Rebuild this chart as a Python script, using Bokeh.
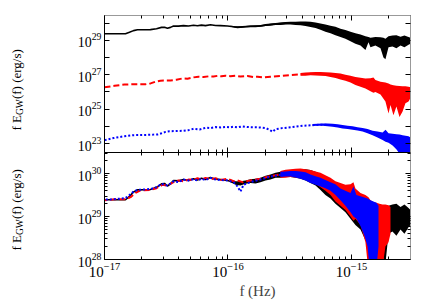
import numpy as np
from bokeh.plotting import figure
from bokeh.layouts import column, row
from bokeh.models import LogAxis, FixedTicker, Range1d, CustomJSTickFormatter
from bokeh.core.properties import value
from bokeh.embed import file_html
from bokeh.resources import INLINE

# ---------------- data: log10 f [Hz] and log10 f*E_GW(f) [erg/s] (lower-panel, rescaled frame)
black_logf = [-17.000, -16.830, -16.798, -16.765, -16.733, -16.628, -16.579, -16.538, -16.514,
              -16.490, -16.466, -16.441, -16.401, -16.360, -16.320, -16.279, -16.247, -16.215,
              -16.182, -16.142, -16.101, -16.061, -16.004, -15.955, -15.923, -15.883, -15.818,
              -15.737, -15.656, -15.575, -15.494, -15.413]
black_logE = [29.39, 29.39, 29.47, 29.57, 29.62, 29.63, 29.68, 29.76, 29.77,
              29.71, 29.76, 29.84, 29.83, 29.86, 29.84, 29.88, 29.85, 29.89,
              29.86, 29.91, 29.87, 29.86, 29.84, 29.80, 29.76, 29.79, 29.82,
              29.84, 29.93, 29.98, 30.02, 30.02]
black_band_logf = [-15.980, -15.939, -15.899, -15.858, -15.818, -15.777, -15.737, -15.696, -15.656,
                   -15.615, -15.575, -15.534, -15.494, -15.453, -15.413, -15.372, -15.332, -15.291,
                   -15.251, -15.211, -15.170, -15.130, -15.089, -15.049, -15.008, -14.968, -14.927,
                   -14.887, -14.862, -14.846, -14.806, -14.765, -14.741, -14.725, -14.700, -14.668,
                   -14.636, -14.603, -14.571, -14.538, -14.522]
black_band_lo = [29.80, 29.74, 29.72, 29.76, 29.78, 29.77, 29.80, 29.84, 29.86,
                 29.90, 29.90, 29.92, 29.92, 29.90, 29.88, 29.84, 29.78, 29.72,
                 29.62, 29.50, 29.42, 29.30, 29.20, 29.10, 28.95, 28.80, 28.70,
                 28.45, 28.90, 28.60, 28.70, 28.55, 28.00, 27.90, 28.60, 28.65,
                 28.55, 28.70, 28.60, 28.75, 28.80]
black_band_hi = [29.86, 29.82, 29.82, 29.84, 29.87, 29.88, 29.90, 29.95, 29.98,
                 30.02, 30.04, 30.07, 30.08, 30.09, 30.10, 30.10, 30.08, 30.04,
                 29.98, 29.92, 29.86, 29.80, 29.68, 29.60, 29.50, 29.42, 29.35,
                 29.25, 29.20, 29.15, 29.20, 29.18, 29.15, 29.10, 29.25, 29.28,
                 29.30, 29.22, 29.28, 29.20, 29.15]

red_logf = [-17.162, -17.081, -17.000, -16.919, -16.830, -16.789, -16.749, -16.709, -16.628,
            -16.579, -16.530, -16.490, -16.441, -16.401, -16.360, -16.320, -16.279, -16.247,
            -16.215, -16.182, -16.142, -16.101, -16.061, -16.004, -15.955, -15.923, -15.883,
            -15.818, -15.737, -15.656, -15.575, -15.494, -15.413]
red_logE = [29.22, 29.31, 29.38, 29.40, 29.40, 29.45, 29.55, 29.61, 29.62,
            29.66, 29.74, 29.72, 29.80, 29.84, 29.82, 29.86, 29.85, 29.89,
            29.86, 29.90, 29.87, 29.89, 29.85, 29.88, 29.82, 29.84, 29.80,
            29.84, 29.88, 29.94, 29.98, 30.01, 30.01]
red_band_logf = [-15.575, -15.534, -15.494, -15.453, -15.413, -15.372, -15.332, -15.291, -15.251,
                 -15.211, -15.170, -15.130, -15.089, -15.049, -15.008, -14.984, -14.968, -14.927,
                 -14.887, -14.862, -14.846, -14.822, -14.798, -14.773, -14.749, -14.725, -14.700,
                 -14.684]
red_band_lo = [29.90, 29.90, 29.92, 29.91, 29.90, 29.88, 29.82, 29.76, 29.68,
               29.60, 29.50, 29.35, 29.25, 29.15, 29.00, 28.90, 28.95, 28.80,
               28.40, 27.70, 28.20, 27.60, 28.10, 27.50, 27.80, 28.30, 28.40,
               28.60]
red_band_hi = [30.06, 30.09, 30.10, 30.11, 30.12, 30.10, 30.08, 30.05, 30.02,
               29.96, 29.90, 29.82, 29.78, 29.74, 29.75, 29.80, 29.65, 29.55,
               29.50, 29.45, 29.38, 29.34, 29.32, 29.30, 29.28, 29.28, 29.26,
               29.22]

blue_logf = [-17.259, -17.186, -17.105, -17.024, -16.943, -16.862, -16.830, -16.798, -16.765,
             -16.733, -16.628, -16.579, -16.538, -16.490, -16.441, -16.401, -16.360, -16.320,
             -16.279, -16.247, -16.215, -16.182, -16.142, -16.101, -16.061, -16.004, -15.955,
             -15.923, -15.899, -15.874, -15.818, -15.737, -15.656, -15.575, -15.494, -15.413]
blue_logE = [29.10, 29.22, 29.32, 29.39, 29.40, 29.42, 29.43, 29.50, 29.58,
             29.62, 29.64, 29.68, 29.76, 29.72, 29.82, 29.80, 29.86, 29.84,
             29.87, 29.84, 29.88, 29.85, 29.90, 29.86, 29.85, 29.84, 29.80,
             29.70, 29.58, 29.74, 29.80, 29.86, 29.93, 29.97, 30.00, 29.97]
blue_band_logf = [-15.575, -15.534, -15.494, -15.453, -15.413, -15.372, -15.332, -15.291, -15.251,
                  -15.211, -15.170, -15.130, -15.089, -15.049, -15.008, -14.984, -14.960, -14.927,
                  -14.895, -14.870, -14.846, -14.822, -14.798, -14.781]
blue_band_lo = [29.92, 29.93, 29.93, 29.91, 29.88, 29.84, 29.78, 29.74, 29.70,
                29.66, 29.60, 29.50, 29.38, 29.25, 29.10, 29.00, 28.95, 28.78,
                28.55, 28.30, 27.60, 27.50, 27.80, 28.30]
blue_band_hi = [30.04, 30.05, 30.06, 30.06, 30.05, 30.03, 29.98, 29.94, 29.90,
                29.85, 29.80, 29.75, 29.65, 29.60, 29.55, 29.70, 29.50, 29.47,
                29.44, 29.42, 29.38, 29.35, 29.32, 29.25]

# shifts that put each rescaled spectrum back to its raw value (upper panel)
red_raw_dlogf, red_raw_dlogE = 0.162, -2.95
blue_raw_dlogf, blue_raw_dlogE = 0.26, -5.90

x_major = [1e-17, 1e-16, 1e-15]
x_minor = [m * 10.0 ** e for e in (-17, -16, -15) for m in range(2, 10)]
top_y_major = [1e23, 1e25, 1e27, 1e29]
top_y_minor = [1e24, 1e26, 1e28, 1e30]
bot_y_major = [1e28, 1e29, 1e30]
bot_y_minor = [m * 10.0 ** e for e in (28, 29, 30) for m in range(2, 10)]

ytitle_parts = ["f E", "GW", "(f) (erg/s)"]

FONT = "Liberation Serif"
XR = (1e-17, 10 ** -14.522)
TW = 30       # width of the strip holding the y titles
H = 302       # height of that strip
OV = 5        # room below the upper frame, overlapped by the lower figure


def style(ax, major, minor, labels, line_color, minor_len=3, fs="15px"):
    ax.ticker = FixedTicker(ticks=major, minor_ticks=minor)
    ax.major_tick_in = 5
    ax.major_tick_out = 0
    ax.minor_tick_in = minor_len
    ax.minor_tick_out = 0
    ax.axis_line_color = line_color
    ax.major_tick_line_color = "black"
    ax.minor_tick_line_color = "black"
    if labels:
        ax.major_label_text_font = FONT
        ax.major_label_text_font_size = fs
        ax.major_label_text_color = "black"
        ax.major_label_standoff = 3
    else:
        ax.formatter = CustomJSTickFormatter(code="return ''")
        ax.major_label_text_font_size = "0.1px"
        ax.major_label_text_alpha = 0
        ax.major_label_standoff = 0


def make(yr, fh, bt, bb):
    p = figure(x_axis_type="log", y_axis_type="log", x_range=Range1d(*XR), y_range=Range1d(*yr),
               frame_width=306, frame_height=fh, output_backend="svg", toolbar_location=None,
               min_border_left=104 - TW, min_border_right=12, min_border_top=bt, min_border_bottom=bb)
    p.grid.visible = False
    p.outline_line_color = None
    p.background_fill_color = "white"
    p.border_fill_color = "white"
    return p


def draw(p, logf, logE, blf, blo, bhi, color, dash, width, dlf=0.0, dle=0.0):
    bx = 10 ** (np.array(blf) + dlf)
    p.varea(x=bx, y1=10 ** (np.array(blo) + dle), y2=10 ** (np.array(bhi) + dle),
            fill_color=color, fill_alpha=1.0)
    p.line(10 ** (np.array(logf) + dlf), 10 ** (np.array(logE) + dle), line_color=color,
           line_width=width, line_dash=dash)


# ---------------- upper panel
p1 = make((10 ** 22.48, 10 ** 30.45), 137, 15, OV)
p1.margin = (0, 0, -OV, 0)
draw(p1, black_logf, black_logE, black_band_logf, black_band_lo, black_band_hi, "black", "solid", 1.6)
draw(p1, red_logf, red_logE, red_band_logf, red_band_lo, red_band_hi, "red", "6 3", 2.0,
     red_raw_dlogf, red_raw_dlogE)
draw(p1, blue_logf, blue_logE, blue_band_logf, blue_band_lo, blue_band_hi, "blue", "2 2", 2.0,
     blue_raw_dlogf, blue_raw_dlogE)
style(p1.yaxis[0], top_y_major, top_y_minor, True, "black", minor_len=5, fs="14px")
style(p1.xaxis[0], x_major, x_minor, False, "black")
a = LogAxis(); style(a, x_major, x_minor, False, "#999999"); p1.add_layout(a, "above")
a = LogAxis(); style(a, top_y_major, top_y_minor, False, "#999999", minor_len=5); p1.add_layout(a, "right")

# ---------------- lower panel
p2 = make((1e28, 10 ** 30.49), 107, 0, 4)
draw(p2, black_logf, black_logE, black_band_logf, black_band_lo, black_band_hi, "black", "solid", 1.6)
draw(p2, red_logf, red_logE, red_band_logf, red_band_lo, red_band_hi, "red", "6 3", 2.0)
draw(p2, blue_logf, blue_logE, blue_band_logf, blue_band_lo, blue_band_hi, "blue", "2 2", 2.0)
style(p2.yaxis[0], bot_y_major, bot_y_minor, True, "black", fs="14px")
style(p2.xaxis[0], x_major, x_minor, True, "black")
p2.xaxis[0].axis_label = "f (Hz)"
p2.xaxis[0].axis_label_text_font = FONT
p2.xaxis[0].axis_label_text_font_size = "15px"
p2.xaxis[0].axis_label_text_font_style = "normal"
p2.xaxis[0].axis_label_standoff = 3
a = LogAxis(); style(a, x_major, x_minor, False, "black"); p2.add_layout(a, "above")
a = LogAxis(); style(a, bot_y_major, bot_y_minor, False, "#999999"); p2.add_layout(a, "right")

# ---------------- strip with the y titles  f E_GW(f) (erg/s)
pt = figure(width=TW, height=H, x_range=Range1d(0, TW), y_range=Range1d(0, H),
            output_backend="svg", toolbar_location=None, min_border=0)
pt.axis.visible = False
pt.grid.visible = False
pt.outline_line_color = None
# (page y where each piece starts, x of its centre, font size) for both panels
for starts in ([130, 114.5, 98.6], [250, 234.5, 218.6]):
    for txt, y0, xc, fs in zip(ytitle_parts, starts, [16, 19, 16], ["13px", "9.5px", "13px"]):
        pt.text(x=[xc], y=[H - y0], text=[txt], angle=np.pi / 2, text_align="left",
                text_baseline="middle", text_font=value(FONT), text_font_size=value(fs),
                text_color="black")

layout = row(pt, column(p1, p2, spacing=0), spacing=0)
open("out.html", "w").write(file_html(layout, INLINE))
